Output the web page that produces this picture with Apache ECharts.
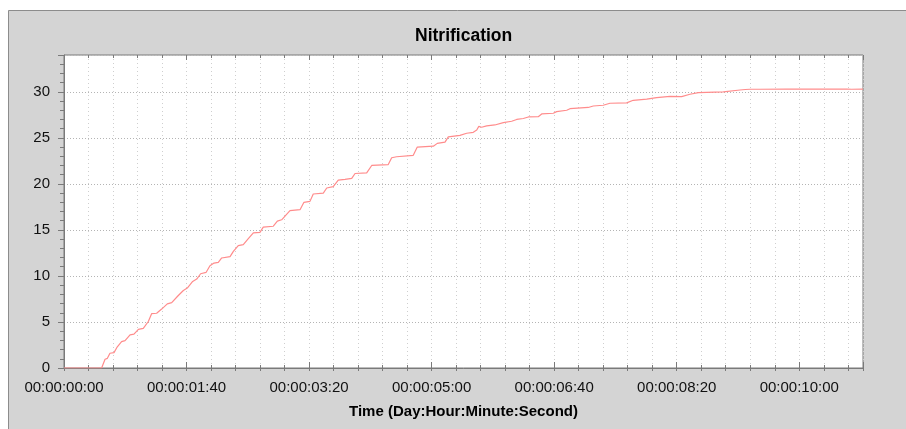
<!DOCTYPE html>
<html>
<head>
<meta charset="utf-8">
<script src="https://cdn.jsdelivr.net/npm/echarts@6/dist/echarts.min.js"></script>
<style>
  html, body { margin: 0; padding: 0; background: #fff; }
  #main { width: 906px; height: 429px; }
</style>
</head>
<body>
<div id="main"></div>
<script>
// elapsed time in seconds
const times = [0, 30.7, 33.5, 35.4, 37.5, 40.8, 43.5, 47, 49.8, 53.9, 57.1, 60.7, 64.7, 68.8, 71.5, 75.6,
  79.7, 84.3, 87.9, 92.5, 97.4, 100.6, 105, 108.3, 111.5, 115.9, 119.1, 122.4, 125.9, 128.7, 135.5,
  138.2, 142.2, 146.3, 150.4, 154.5, 159.9, 162.6, 170.8, 174.1, 177.6, 184.4, 192.6, 195.8, 200.7,
  203.4, 211.6, 214.4, 219.7, 223.8, 229.3, 234.8, 237.5, 247, 251.1, 264.6, 267.4, 271.4, 285,
  288.3, 301.4, 304.6, 310.9, 313.6, 323.1, 328.6, 334, 336.8, 338.5, 340.8, 344.9, 351.6, 358.5,
  365.3, 369.4, 374.8, 378.9, 387, 389.8, 399.3, 402, 410.2, 412.9, 427.8, 431.9, 440, 445.5,
  459.1, 464.5, 475.5, 483.6, 494.5, 504, 510.8, 517.7, 538, 551.6, 556, 557.5, 559.8, 568, 590,
  610, 630, 638.7, 640, 642.7, 652];
// nitrification value at each time
const values = [0, 0, 0.95, 1.05, 1.6, 1.67, 2.3, 2.87, 2.97, 3.6, 3.67, 4.2, 4.3, 5.05, 5.9, 5.95,
  6.4, 6.97, 7.1, 7.77, 8.42, 8.68, 9.4, 9.66, 10.24, 10.38, 11.1, 11.4, 11.47, 11.95, 12.1,
  12.67, 13.3, 13.4, 14.05, 14.67, 14.74, 15.3, 15.4, 15.95, 16.1, 17.1, 17.2, 18.0, 18.1,
  18.9, 19.0, 19.55, 19.7, 20.4, 20.48, 20.6, 21.13, 21.2, 22.0, 22.1, 22.84, 22.95, 23.1,
  24.0, 24.1, 24.4, 24.54, 25.1, 25.27, 25.5, 25.6, 25.85, 26.25, 26.15, 26.3, 26.4, 26.65,
  26.8, 27.0, 27.1, 27.27, 27.3, 27.6, 27.67, 27.85, 28.0, 28.17, 28.3, 28.46, 28.54, 28.76,
  28.8, 29.08, 29.2, 29.37, 29.5, 29.48, 29.74, 29.92, 29.99, 30.2, 30.25, 30.4, 30.28, 30.28, 30.3,
  30.3, 30.3, 30.3, 30.39, 30.28, 30.3];

const seriesData = times.map((t, i) => [t, values[i]]);

function pad(n) {
  return (n < 10 ? '0' : '') + n;
}
// seconds -> Day:Hour:Minute:Second
function timeLabel(s) {
  const m = Math.floor(s / 60);
  return '00:00:' + pad(m) + ':' + pad(Math.round(s - m * 60));
}

const axisColor = '#7a7a7a';
const font = 'Liberation Sans, Arial, sans-serif';

const chart = echarts.init(document.getElementById('main'));
chart.setOption({
  backgroundColor: '#fff',
  animation: false,
  textStyle: { fontFamily: font },
  graphic: [{
    type: 'rect',
    z: -10,
    shape: { x: 8.5, y: 10.5, width: 910, height: 430 },
    style: { fill: '#d4d4d4', stroke: '#8c8c8c', lineWidth: 1 }
  }],
  title: {
    text: 'Nitrification',
    left: 410,
    top: 22,
    textStyle: { fontSize: 17.5, fontWeight: 'bold', color: '#000', fontFamily: font }
  },
  grid: {
    left: 64, right: 43, top: 55, bottom: 61,
    show: true,
    backgroundColor: '#fff',
    borderColor: axisColor,
    borderWidth: 1
  },
  xAxis: [{
    type: 'value',
    min: 0, max: 652, interval: 100,
    name: 'Time (Day:Hour:Minute:Second)',
    nameLocation: 'middle',
    nameGap: 36,
    nameTextStyle: { fontSize: 15, fontWeight: 'bold', color: '#000', fontFamily: font },
    axisLine: { lineStyle: { color: axisColor } },
    axisTick: { length: 3, lineStyle: { color: axisColor } },
    minorTick: { show: true, splitNumber: 5, length: 3, lineStyle: { color: axisColor } },
    axisLabel: { formatter: timeLabel, fontSize: 15, color: '#111', margin: 12, showMaxLabel: false },
    splitLine: { show: true, lineStyle: { color: '#cfcfcf', type: [1, 3] } },
    minorSplitLine: { show: true, lineStyle: { color: '#cfcfcf', type: [1, 3] } }
  }, {
    type: 'value',
    position: 'bottom',
    min: 0, max: 652, interval: 100,
    axisLine: { show: false },
    axisTick: { inside: true, length: 6, lineStyle: { color: axisColor } },
    minorTick: { show: true, splitNumber: 5, length: 3, lineStyle: { color: axisColor } },
    axisLabel: { show: false },
    splitLine: { show: false }
  }, {
    type: 'value',
    position: 'top',
    min: 0, max: 652, interval: 100,
    axisLine: { show: false },
    axisTick: { inside: true, length: 5, lineStyle: { color: axisColor } },
    minorTick: { show: true, splitNumber: 5, length: 3, lineStyle: { color: axisColor } },
    axisLabel: { show: false },
    splitLine: { show: false }
  }],
  yAxis: {
    type: 'value',
    min: 0, max: 34, interval: 5,
    axisLine: { show: true, lineStyle: { color: axisColor } },
    axisTick: { show: true, length: 6, lineStyle: { color: axisColor } },
    minorTick: { show: true, splitNumber: 5, length: 4, lineStyle: { color: axisColor } },
    axisLabel: { fontSize: 15, color: '#111', margin: 14, showMaxLabel: false },
    splitLine: { show: true, lineStyle: { color: '#b4b4b4', type: [1, 2] } }
  },
  series: [{
    type: 'line',
    xAxisIndex: 0,
    data: seriesData,
    showSymbol: false,
    lineStyle: { color: '#ff8c8c', width: 1.2 },
    itemStyle: { color: '#ff8c8c' }
  }]
});
</script>
</body>
</html>
